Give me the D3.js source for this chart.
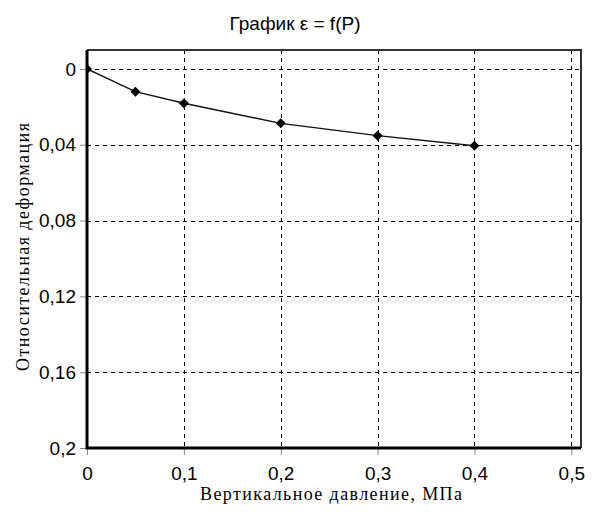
<!DOCTYPE html>
<html>
<head>
<meta charset="utf-8">
<script src="https://cdn.jsdelivr.net/npm/d3@7"></script>
<style>
  html, body { margin: 0; padding: 0; background: #fff; }
  svg { display: block; }
</style>
</head>
<body>
<svg id="chart" width="598" height="512"></svg>
<script>
// Compression curve: relative strain vs vertical pressure
const pressure = [0, 0.05, 0.1, 0.2, 0.3, 0.4];          // МПа
const strain   = [0, 0.012, 0.0181, 0.0287, 0.0352, 0.0405];
const xTicks = [0, 0.1, 0.2, 0.3, 0.4, 0.5];
const yTicks = [0, 0.04, 0.08, 0.12, 0.16, 0.2];
const fmt = d => String(d).replace(".", ",");

(function draw() {
  const svg = d3.select("#chart");
  const pL = 87, pR = 581, pT = 50, pB = 448;

  const x = d3.scaleLinear().domain([0, 0.51]).range([pL, pR]);
  const y = d3.scaleLinear().domain([-0.01, 0.2]).range([pT, pB]);

  svg.append("clipPath").attr("id", "plot-area")
    .append("rect").attr("x", pL).attr("y", pT)
    .attr("width", pR - pL).attr("height", pB - pT);

  // title
  svg.append("text")
    .attr("x", 295).attr("y", 30)
    .attr("text-anchor", "middle")
    .style("font-family", "'Liberation Sans', Arial, sans-serif")
    .style("font-size", "19px")
    .text("График ε = f(P)");

  // dashed grid
  const grid = svg.append("g")
    .attr("stroke", "#000").attr("stroke-width", 1)
    .attr("stroke-dasharray", "4,4").attr("shape-rendering", "crispEdges");
  grid.selectAll("line.v").data(xTicks.filter(d => d > 0)).join("line")
    .attr("x1", d => Math.round(x(d)) + 0.5).attr("x2", d => Math.round(x(d)) + 0.5)
    .attr("y1", pT).attr("y2", pB);
  grid.selectAll("line.h").data(yTicks.filter(d => d < 0.2)).join("line")
    .attr("y1", d => Math.round(y(d)) + 0.5).attr("y2", d => Math.round(y(d)) + 0.5)
    .attr("x1", pL).attr("x2", pR);

  // axes with short outer ticks
  const axisFont = "'Liberation Sans Narrow', 'Arial Narrow', 'Liberation Sans', sans-serif";
  const yAxis = svg.append("g")
    .attr("transform", `translate(${pL},0)`)
    .call(d3.axisLeft(y).tickValues(yTicks).tickFormat(fmt).tickSize(7).tickPadding(4));
  const xAxis = svg.append("g")
    .attr("transform", `translate(0,${pB})`)
    .call(d3.axisBottom(x).tickValues(xTicks).tickFormat(fmt).tickSize(7).tickPadding(12));
  [xAxis, yAxis].forEach(a => {
    a.select(".domain").remove();
    a.selectAll(".tick line").attr("stroke", "#888");
    a.selectAll(".tick text")
      .style("font-family", axisFont).style("font-size", "19px").attr("fill", "#000");
  });

  // curve and diamond markers, kept inside the plot area
  const pts = pressure.map((p, i) => [p, strain[i]]);
  const series = svg.append("g").attr("clip-path", "url(#plot-area)");
  series.append("path")
    .datum(pts)
    .attr("fill", "none").attr("stroke", "#111").attr("stroke-width", 1.4)
    .attr("d", d3.line().x(d => x(d[0])).y(d => y(d[1])));
  series.selectAll("path.mk").data(pts).join("path")
    .attr("class", "mk")
    .attr("transform", d => `translate(${x(d[0])},${y(d[1])})`)
    .attr("d", "M0,-5L5,0L0,5L-5,0Z")
    .attr("fill", "#000");

  // frame: thin top/right, heavy left/bottom
  svg.append("path")
    .attr("d", `M${pL},${pT}H${pR}V${pB}`)
    .attr("fill", "none").attr("stroke", "#333").attr("stroke-width", 2);
  svg.append("path")
    .attr("d", `M${pL},${pT}V${pB}H${pR}`)
    .attr("fill", "none").attr("stroke", "#000").attr("stroke-width", 3);

  // axis titles
  const titleFont = "'Liberation Serif', 'Times New Roman', serif";
  svg.append("text")
    .attr("x", 331).attr("y", 500)
    .attr("text-anchor", "middle")
    .attr("textLength", 262).attr("lengthAdjust", "spacing")
    .style("font-family", titleFont).style("font-size", "18px")
    .text("Вертикальное давление, МПа");
  svg.append("text")
    .attr("transform", "translate(29,247) rotate(-90)")
    .attr("text-anchor", "middle")
    .attr("textLength", 248).attr("lengthAdjust", "spacing")
    .style("font-family", titleFont).style("font-size", "18px")
    .text("Относительная деформация");
})();
</script>
</body>
</html>
